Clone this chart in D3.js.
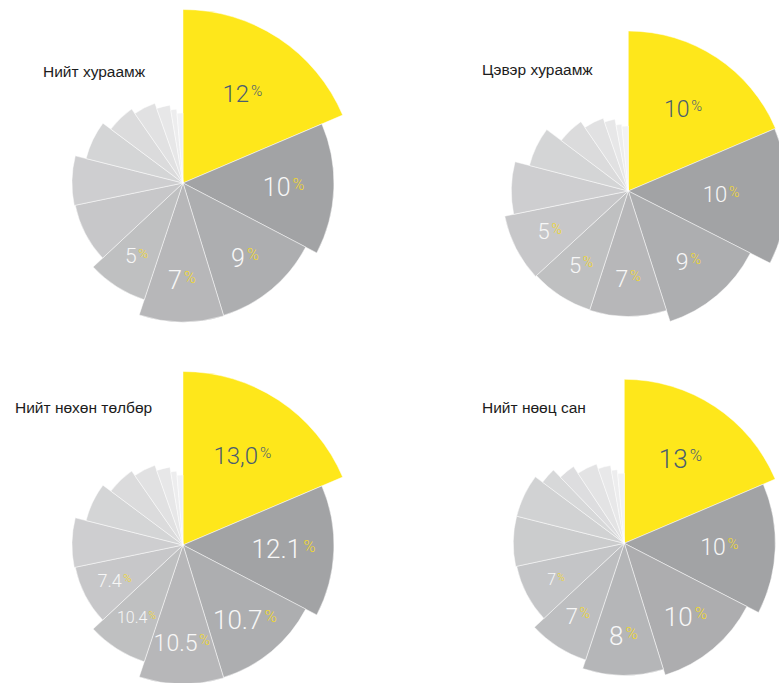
<!DOCTYPE html>
<html><head><meta charset="utf-8">
<script src="https://cdn.jsdelivr.net/npm/d3@7"></script>
<style>html,body{margin:0;padding:0;background:#fff;overflow:hidden}svg{display:block}</style>
</head><body>
<svg id="chart" width="779" height="683"></svg>
<script>
// ---------- data ----------
const titles = ["Нийт хураамж", "Цэвэр хураамж", "Нийт нөхөн төлбөр", "Нийт нөөц сан"];

// printed value labels (first slices only)
const labels1 = ["12", "10", "9", "7", "5"];
const labels2 = ["10", "10", "9", "7", "5", "5"];
const labels3 = ["13,0", "12.1", "10.7", "10.5", "10.4", "7.4"];
const labels4 = ["13", "10", "10", "8", "7", "7"];

// slice shares (percent of the full circle)
const share1 = [18.6, 14.06, 12.61, 9.83, 7.94, 8.72, 7.17, 6.28, 5.14, 4.25, 2.75, 1.28, 1.37];
const share2 = [18.6, 13.89, 12.58, 9.92, 8.17, 8.64, 7.22, 6.25, 5.19, 4.25, 2.36, 1.36, 1.57];
const share3 = [18.6, 14.06, 12.61, 9.83, 7.94, 8.72, 7.17, 6.28, 5.14, 4.25, 2.75, 1.28, 1.37];
const share4 = [18.6, 13.97, 12.64, 9.89, 7.94, 8.61, 7.28, 6.28, 2.56, 2.92, 3.94, 2.58, 1.28, 1.51];

// slice magnitudes (index, largest slice = 100)
const mag1 = [100, 87, 79.8, 80.1, 70.9, 63.4, 64, 57.6, 51.9, 48.7, 45.5, 42.7, 40.3];
const mag2 = [100, 99.4, 85.6, 78.4, 78.1, 78.8, 73.1, 63.8, 52.5, 48.1, 45.6, 41.9, 40.6];
const mag3 = [100, 87, 79.8, 80.1, 70.9, 63.4, 64, 57.6, 51.9, 48.7, 45.5, 42.7, 40.3];
const mag4 = [100, 92.1, 84.1, 80.5, 75, 67.1, 67.7, 67.7, 62.2, 56.1, 51.2, 48.2, 45.1, 42.7];

// ---------- layout / style (not data) ----------
const layout = [
  {cx: 183,   cy: 183,   R: 173.5, tx: 43,  ty: 77,  fs: [24, 25, 25, 25, 21]},
  {cx: 628.3, cy: 191,   R: 160,   tx: 482, ty: 75,  fs: [23, 22, 23, 23, 22, 22]},
  {cx: 183,   cy: 545,   R: 173.5, tx: 15,  ty: 413, fs: [24, 26, 26, 23, 16, 18]},
  {cx: 624.3, cy: 543.3, R: 164,   tx: 482, ty: 413, fs: [26, 23, 26, 26, 22, 16]}
];
const charts = [
  {title: titles[0], labels: labels1, share: share1, mag: mag1},
  {title: titles[1], labels: labels2, share: share2, mag: mag2},
  {title: titles[2], labels: labels3, share: share3, mag: mag3},
  {title: titles[3], labels: labels4, share: share4, mag: mag4}
];

const YELLOW = "#fee71b";
const svg = d3.select("#chart");

charts.forEach((c, ci) => {
  const L = layout[ci];
  const n = c.share.length;
  const rScale = d3.scaleLinear().domain([0, 100]).range([0, L.R]);
  const t = d3.scalePow().exponent(0.65).domain([1, n - 1]).range([0, 1]);
  const greyInterp = d3.interpolateRgb("#a2a3a5", "#f2f2f3");
  const grey = i => greyInterp(t(i));
  const pie = d3.pie().sort(null).value(d => d.s);
  const data = c.share.map((s, i) => ({s, m: c.mag[i], label: c.labels[i], i}));
  const arcs = pie(data);

  const g = svg.append("g").attr("transform", `translate(${L.cx},${L.cy})`);
  const arc = d3.arc().innerRadius(0).outerRadius(d => rScale(d.data.m));

  g.selectAll("path.slice").data(arcs).join("path")
    .attr("class", "slice")
    .attr("d", arc)
    .attr("fill", d => d.data.i === 0 ? YELLOW : grey(d.data.i))
    .attr("stroke", "#ffffff")
    .attr("stroke-opacity", 0.8)
    .attr("stroke-width", 0.6)
    .attr("stroke-linejoin", "miter");

  // labels
  g.selectAll("text.lab").data(arcs.filter(d => d.data.label)).join("text")
    .attr("class", "lab")
    .attr("font-family", "Roboto, 'Open Sans', sans-serif")
    .attr("font-weight", 300)
    .attr("text-anchor", "middle")
    .attr("transform", d => {
      const a = (d.startAngle + d.endAngle) / 2;
      const r = rScale(d.data.m);
      const lr = d.data.i === 0 ? 0.62 * L.R : Math.min(0.7 * r, 0.58 * L.R);
      return `translate(${lr * Math.sin(a)},${-lr * Math.cos(a)})`;
    })
    .each(function(d) {
      const fs = L.fs[d.data.i];
      const tx = d3.select(this).attr("font-size", fs).attr("dy", 0.36 * fs);
      const first = d.data.i === 0;
      tx.append("tspan").text(d.data.label).attr("fill", first ? "#4a5d70" : "#f7f7f7");
      tx.append("tspan").text("%")
        .attr("font-size", fs * 0.64)
        .attr("dx", fs * 0.08)
        .attr("dy", -fs * 0.25)
        .attr("fill", first ? "#4a5d70" : "#f3d92c");
    });

  svg.append("text")
    .attr("x", L.tx).attr("y", L.ty)
    .attr("font-family", "'Liberation Sans', Arial, Helvetica, sans-serif")
    .attr("font-size", 15.5)
    .attr("fill", "#1c1c1c")
    .text(c.title);
});
</script>
</body></html>
